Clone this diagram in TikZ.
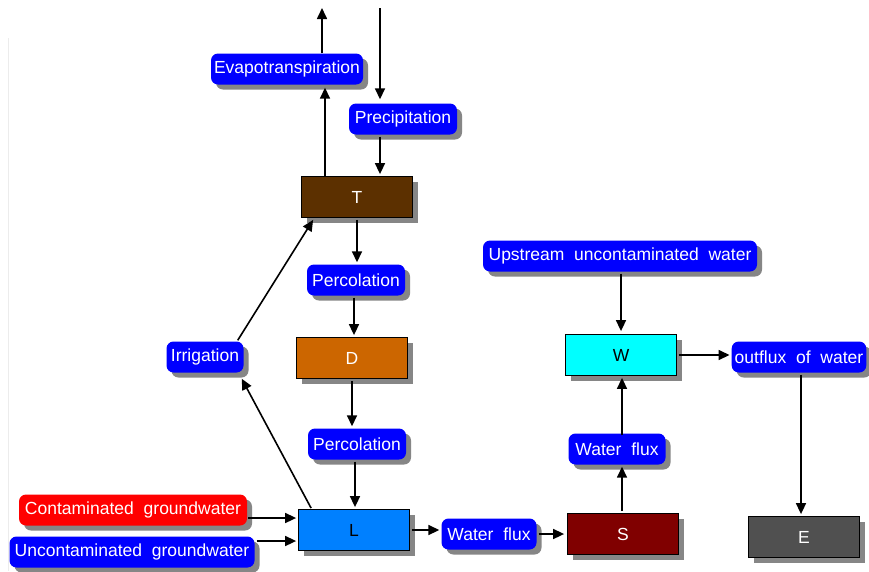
\documentclass[tikz,border=0pt]{standalone}
\usepackage{fontspec}
\setmainfont{Liberation Sans}
\usetikzlibrary{shadows,arrows.meta}
\newcommand{\wgap}{\hspace{0.56em}}
\definecolor{lblue}{HTML}{0000FF}
\definecolor{lred}{HTML}{FF0000}
\definecolor{boxT}{HTML}{5C3000}
\definecolor{boxD}{HTML}{CC6600}
\definecolor{boxL}{HTML}{0080FF}
\definecolor{boxS}{HTML}{800000}
\definecolor{boxW}{HTML}{00FFFF}
\definecolor{boxE}{HTML}{505050}
\tikzset{
  flowlabel/.style={rounded corners=7pt, fill=lblue, text=white, minimum height=31pt,
    inner xsep=3pt, inner ysep=0pt, anchor=center,
    font=\fontsize{17.5}{20}\selectfont,
    drop shadow={shadow xshift=5pt, shadow yshift=-5pt, fill=gray!95, opacity=1}},
  pool/.style={draw=black, line width=0.8pt, minimum width=111pt, minimum height=41pt,
    inner sep=0pt, text=white, font=\fontsize{17.5}{20}\selectfont,
    drop shadow={shadow xshift=5pt, shadow yshift=-5pt, fill=gray!95, opacity=1}},
  flow/.style={line width=1.6pt, -{Triangle[length=11pt,width=10pt]}}
}
\begin{document}
\begin{tikzpicture}[x=1pt,y=-1pt]
\useasboundingbox (0,0) rectangle (869,571);
\fill[white] (0,0) rectangle (869,571);
% faint frame line on the left
\draw[gray!15, line width=1pt] (8,38) -- (8,571);

% compartments
\node[pool, fill=boxT] (T) at (357,197) {T};
\node[pool, fill=boxD] (D) at (352,358) {D};
\node[pool, fill=boxL, text=black] (L) at (354,530) {L};
\node[pool, fill=boxS] (S) at (623,534) {S};
\node[pool, fill=boxW, text=black] (W) at (621,355) {W};
\node[pool, fill=boxE] (E) at (804,537) {E};

% flux labels
\node[flowlabel, minimum width=152pt] (evap) at (287,69) {Evapotranspiration};
\node[flowlabel, minimum width=108pt] (prec) at (403,119) {Precipitation};
\node[flowlabel, minimum width=98pt] (perc1) at (356,280) {Percolation};
\node[flowlabel, minimum width=98pt] (perc2) at (357,444) {Percolation};
\node[flowlabel, minimum width=77pt] (irr) at (205,357) {Irrigation};
\node[flowlabel, fill=lred, minimum width=228pt] (cgw) at (133,510) {Contaminated\wgap groundwater};
\node[flowlabel, minimum width=245pt] (ugw) at (132,552) {Uncontaminated\wgap groundwater};
\node[flowlabel, minimum width=95pt] (wf1) at (489,534) {Water\wgap flux};
\node[flowlabel, minimum width=97pt] (wf2) at (617,449) {Water\wgap flux};
\node[flowlabel, minimum width=274pt] (up) at (620,256) {Upstream\wgap uncontaminated\wgap water};
\node[flowlabel, minimum width=134pt] (out) at (799,357) {outflux\wgap of\wgap water};

% open ends at the top
\coordinate (atmout) at (322,8);
\coordinate (atmin) at (380,8);

% connectors
\draw[flow] (evap.north -| atmout) -- (atmout);
\draw[flow] (atmin) -- ([yshift=4pt]atmin |- prec.north);
\draw[flow] (prec.south -| atmin) ++(0,2) -- ([yshift=2pt]atmin |- T.north);
\draw[flow] ([xshift=-32pt]T.north) -- ([xshift=-32pt,yshift=-3pt]T.north |- evap.south);
\draw[flow] (T.south) ++(0,2) -- ([yshift=2pt]T.south |- perc1.north);
\draw[flow] (perc1.south -| D.north) ++(2,2) -- ([xshift=2pt,yshift=2pt]D.north);
\draw[flow] (D.south) ++(0,2) -- ([yshift=2pt]D.south |- perc2.north);
\draw[flow] ([xshift=-2pt]perc2.south) ++(0,2) -- ([xshift=1pt,yshift=2pt]L.north);
\draw[flow] ([xshift=13pt,yshift=1pt]L.north west) -- ([xshift=-2pt,yshift=-6pt]irr.south east);
\draw[flow] ([xshift=-6pt,yshift=1pt]irr.north east) -- ([xshift=12pt,yshift=-2pt]T.south west);
\draw[flow] ([xshift=1pt,yshift=-8pt]cgw.east) -- ([xshift=-2pt]L.west |- 0,518);
\draw[flow] ([xshift=2pt,yshift=11pt]ugw.east) -- ([xshift=-2pt]L.west |- 0,541);
\draw[flow] ([xshift=2pt]L.east) -- ([xshift=-2pt]wf1.west |- L.east);
\draw[flow] ([xshift=2pt]wf1.east) -- ([xshift=-3pt]S.west);
\draw[flow] ([xshift=-1pt,yshift=2pt]S.north) -- ([xshift=-1pt,yshift=-2pt]S.north |- wf2.south);
\draw[flow] ([xshift=-1pt,yshift=-2pt]S.north |- wf2.north) -- ([xshift=1pt,yshift=-2pt]W.south);
\draw[flow] ([yshift=-2pt]W.north |- up.south) -- ([yshift=3pt]W.north);
\draw[flow] ([xshift=2pt]W.east) -- ([xshift=-2pt]out.west |- W.east);
\draw[flow] ([xshift=-3pt,yshift=-2pt]E.north |- out.south) -- ([xshift=-3pt,yshift=2pt]E.north);
\end{tikzpicture}
\end{document}
